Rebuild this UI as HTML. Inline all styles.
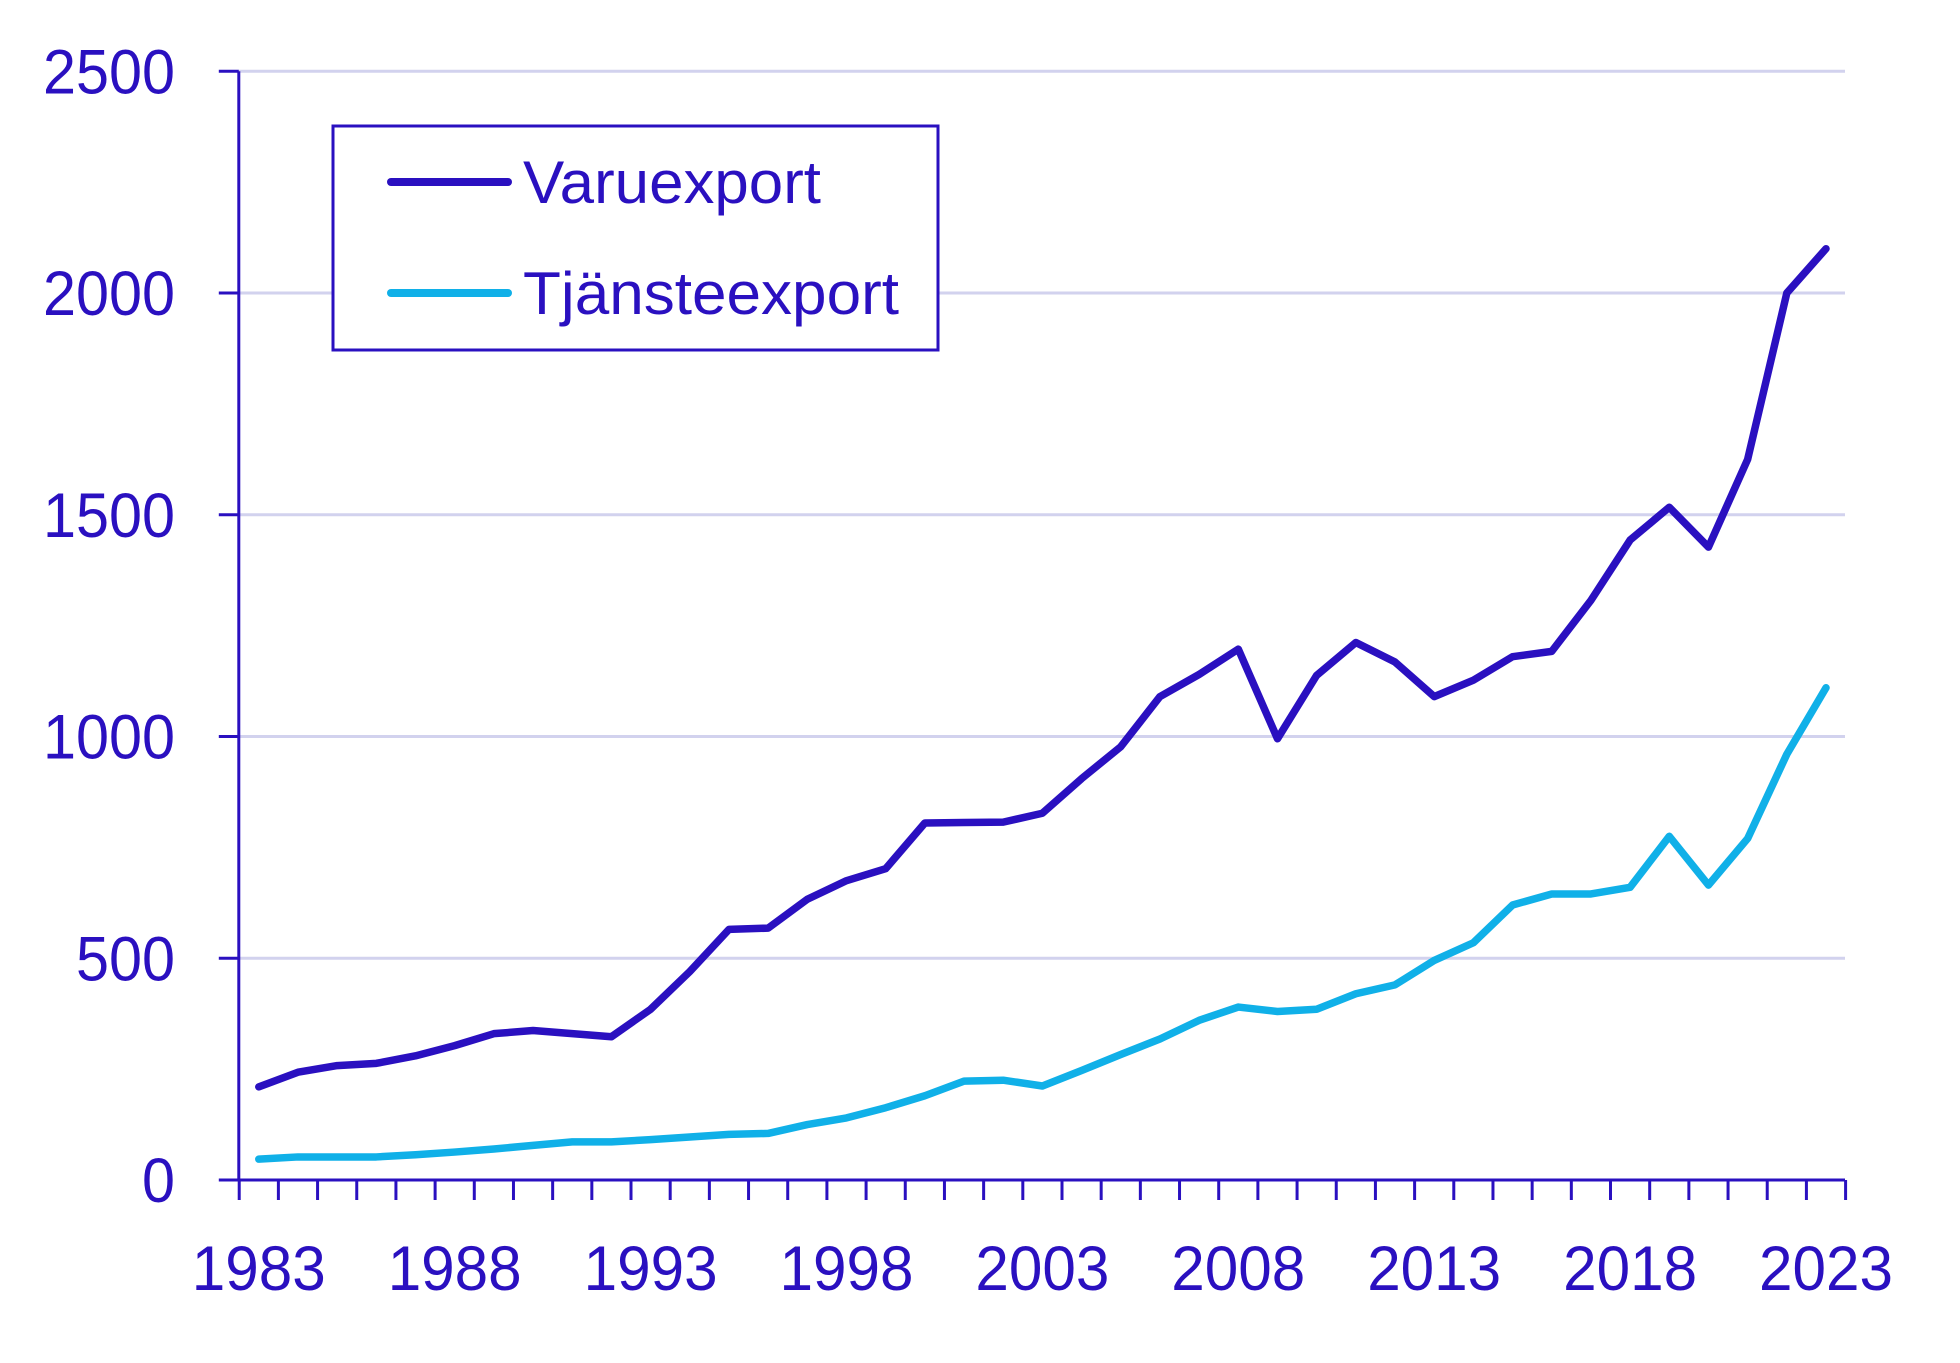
<!DOCTYPE html>
<html><head><meta charset="utf-8"><style>
body{margin:0;background:#fff}
svg text{font-family:"Liberation Sans",sans-serif;fill:#2a10c0}
</style></head><body>
<svg id="chart" width="1960" height="1358" viewBox="0 0 1960 1358" xmlns="http://www.w3.org/2000/svg">
<g id="grid"></g>
<g id="axes"></g>
<g id="series"></g>
<g>
<rect x="333" y="126" width="605" height="224" fill="#fff" stroke="#2a10c0" stroke-width="3"/>
<line x1="391" y1="182" x2="508" y2="182" stroke="#2a10c0" stroke-width="8" stroke-linecap="round"/>
<text x="523" y="203" font-size="60" textLength="298" lengthAdjust="spacingAndGlyphs">Varuexport</text>
<line x1="391" y1="293" x2="508" y2="293" stroke="#10b0e8" stroke-width="8" stroke-linecap="round"/>
<text x="523" y="314" font-size="60" textLength="376" lengthAdjust="spacingAndGlyphs">Tjänsteexport</text>
</g>
</svg>
<script>
const years=[];for(let y=1983;y<=2023;y++)years.push(y);
const varuexport=[210,243,258,263,280,303,330,337,330,323,385,470,565,568,633,675,702,805,806,807,827,905,977,1090,1140,1197,995,1138,1212,1168,1090,1127,1180,1192,1307,1443,1517,1427,1625,2000,2100];
const tjansteexport=[47,52,52,52,57,63,70,78,86,86,91,97,103,105,125,140,163,190,223,225,212,247,283,318,360,390,380,385,420,440,495,535,620,645,645,660,775,665,770,960,1110];
const yTicks=[0,500,1000,1500,2000,2500];
const xLabels=[1983,1988,1993,1998,2003,2008,2013,2018,2023];
const NS='http://www.w3.org/2000/svg';
const X0=238.8,Y0=1180,YT=71.3,XR=1845;
const yS=v=>Y0-(v/2500)*(Y0-YT);
const xS=yr=>258.8+(yr-1983)*(1826-258.8)/40;
function mk(t,a,p){const e=document.createElementNS(NS,t);for(const k in a)e.setAttribute(k,a[k]);p.appendChild(e);return e;}
const grid=document.getElementById('grid'),axes=document.getElementById('axes'),series=document.getElementById('series');
yTicks.forEach(v=>{
 if(v>0){const g=mk('line',{x1:X0,x2:XR,y1:yS(v),y2:yS(v),stroke:'#d2d2ee','stroke-width':3},grid);
 
 }
 const t=mk('line',{x1:X0-20,x2:X0,y1:yS(v),y2:yS(v),stroke:'#2a10c0','stroke-width':3},axes);
 
 
 const n=String(v).length;
 const l=mk('text',{x:175,y:yS(v)+22,'text-anchor':'end','font-size':63,textLength:n*33,lengthAdjust:'spacingAndGlyphs'},axes);l.textContent=v;
 
 
});
const ya=mk('line',{x1:X0,x2:X0,y1:YT,y2:Y0,stroke:'#2a10c0','stroke-width':3},axes);


const xa=mk('line',{x1:X0,x2:XR,y1:Y0,y2:Y0,stroke:'#2a10c0','stroke-width':3},axes);


for(let i=0;i<=years.length;i++){const x=xS(1983+i-0.5);
 const t=mk('line',{x1:x,x2:x,y1:Y0,y2:Y0+20,stroke:'#2a10c0','stroke-width':3},axes);
 
 }
xLabels.forEach(yr=>{const l=mk('text',{x:xS(yr),y:1290,'text-anchor':'middle','font-size':63,textLength:134,lengthAdjust:'spacingAndGlyphs'},axes);l.textContent=yr;
 
 });
function line(data,col,name){const p=mk('polyline',{points:data.map((v,i)=>xS(years[i])+','+yS(v)).join(' '),fill:'none',stroke:col,'stroke-width':7.5,'stroke-linejoin':'round','stroke-linecap':'round'},series);
 
 }
line(tjansteexport,'#10b0e8','tjansteexport-line');
line(varuexport,'#2a10c0','varuexport-line');
</script>
</body></html>
